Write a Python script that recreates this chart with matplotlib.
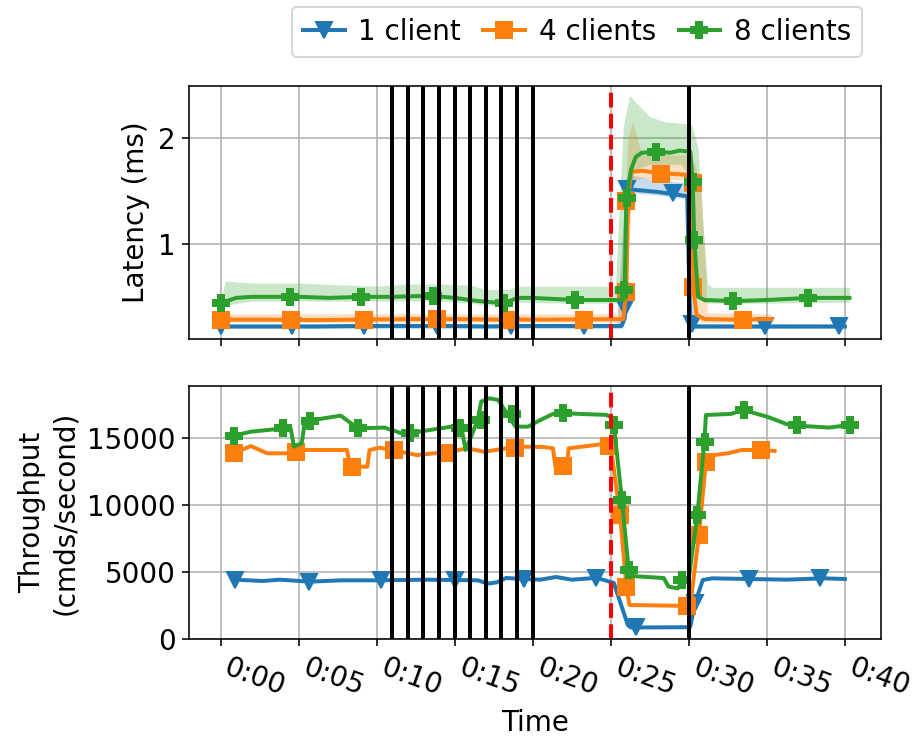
import matplotlib
matplotlib.use('Agg')
from matplotlib import pyplot as plt
from matplotlib.lines import Line2D

##################################################################################
### DATA (time in minutes)
##################################################################################
labels = ['1 client', '4 clients', '8 clients']
colors = ['tab:blue', 'tab:orange', 'tab:green']
markers = ['v', 's', 'P']

xticks = [0, 5, 10, 15, 20, 25, 30, 35, 40]
xticklabels = ['0:00', '0:05', '0:10', '0:15', '0:20', '0:25', '0:30', '0:35', '0:40']

reconfig_times = [11, 12, 13, 14, 15, 16, 17, 18, 19, 20]
failure_time = 25
recovery_time = 30

# --- latency (ms) ---
lat1_x = [0, 3, 6, 9, 12, 15, 17, 19, 22, 25.7, 25.9, 26.0, 26.1, 26.5, 28, 29.9, 30.0, 30.1, 30.3, 33, 36, 40]
lat1_y = [0.22, 0.22, 0.22, 0.225, 0.225, 0.225, 0.22, 0.225, 0.225, 0.225, 0.30, 1.0, 1.52, 1.51, 1.49, 1.45, 0.8, 0.26, 0.22, 0.22, 0.22, 0.22]
lat1_mx = [0, 4.6, 9.2, 13.9, 18.6, 23.3, 25.9, 26.05, 29.0, 30.2, 34.9, 39.6]
lat1_my = [0.22, 0.22, 0.22, 0.225, 0.225, 0.225, 0.39, 1.52, 1.48, 0.24, 0.22, 0.22]
lat1_band_x = [0, 25.4, 25.7, 26.0, 26.3, 28, 30.0, 30.2, 30.4, 40]
lat1_lo = [0.20, 0.20, 0.20, 0.9, 1.48, 1.46, 1.42, 0.20, 0.20, 0.20]
lat1_hi = [0.245, 0.245, 1.0, 1.62, 1.65, 1.60, 1.58, 0.6, 0.25, 0.245]

lat4_x = [0, 3, 6, 9, 12, 15, 18, 21, 25.8, 26.0, 26.1, 26.3, 27, 28, 29, 30.1, 30.2, 30.3, 30.5, 31, 33, 35.3]
lat4_y = [0.285, 0.285, 0.28, 0.285, 0.29, 0.29, 0.285, 0.285, 0.29, 0.55, 1.40, 1.68, 1.69, 1.67, 1.66, 1.65, 1.55, 0.57, 0.33, 0.29, 0.285, 0.29]
lat4_mx = [0, 4.53, 9.21, 13.89, 18.54, 23.31, 25.97, 25.97, 28.23, 30.25, 30.25, 33.48]
lat4_my = [0.285, 0.285, 0.285, 0.29, 0.285, 0.285, 0.55, 1.40, 1.66, 1.57, 0.59, 0.285]
lat4_band_x = [0, 25.4, 25.7, 26.1, 26.4, 27, 30.0, 30.4, 30.8, 31.2, 35.3]
lat4_lo = [0.26, 0.26, 0.26, 0.8, 1.60, 1.62, 1.60, 0.3, 0.26, 0.26, 0.26]
lat4_hi = [0.34, 0.34, 0.8, 2.0, 2.15, 1.84, 1.84, 1.75, 1.5, 0.35, 0.34]

lat8_x = [0, 1.0, 2, 5, 7, 9, 11, 13.5, 15, 16.5, 18.2, 19, 20, 22.7, 25.8, 25.9, 26.0, 26.3, 26.6, 27.0, 28, 28.8, 29.4, 30.1, 30.25, 30.35, 30.6, 31, 33, 35, 37.7, 40.3]
lat8_y = [0.44, 0.49, 0.50, 0.50, 0.49, 0.50, 0.50, 0.51, 0.49, 0.46, 0.44, 0.49, 0.49, 0.47, 0.47, 0.60, 1.43, 1.70, 1.82, 1.86, 1.87, 1.86, 1.88, 1.87, 1.60, 1.04, 0.50, 0.47, 0.46, 0.47, 0.49, 0.49]
lat8_mx = [0, 4.44, 8.97, 13.59, 18.18, 22.71, 25.88, 26.03, 27.9, 30.25, 30.34, 32.82, 37.65]
lat8_my = [0.44, 0.50, 0.50, 0.51, 0.44, 0.47, 0.56, 1.43, 1.87, 1.58, 1.04, 0.46, 0.49]
lat8_band_x = [0, 0.3, 2, 5, 8, 10, 12, 14, 16, 17, 18.5, 19, 22, 25.3, 25.5, 25.8, 26.2, 26.5, 27.5, 28.5, 29.5, 30.2, 30.6, 30.9, 31.2, 31.5, 35, 40.3]
lat8_lo = [0.40, 0.42, 0.46, 0.46, 0.46, 0.46, 0.46, 0.46, 0.44, 0.42, 0.42, 0.45, 0.44, 0.44, 0.44, 0.50, 1.30, 1.70, 1.75, 1.75, 1.75, 1.60, 0.60, 0.45, 0.44, 0.44, 0.44, 0.45]
lat8_hi = [0.45, 0.65, 0.63, 0.63, 0.61, 0.60, 0.62, 0.62, 0.61, 0.57, 0.57, 0.60, 0.60, 0.60, 1.20, 2.10, 2.40, 2.35, 2.20, 2.15, 2.14, 2.12, 1.90, 1.20, 0.62, 0.59, 0.59, 0.59]

# --- throughput (cmds/second) ---
thr1_x = [0.9, 2.7, 3.8, 5.7, 7.7, 10.2, 13.1, 16.5, 17.1, 17.7, 18.3, 19.4, 20.5, 21.5, 22.5, 24.0, 24.5, 25.2, 26.1, 26.3, 29.9, 30.1, 30.4, 30.9, 31.5, 33.8, 36.3, 38.6, 40.0]
thr1_y = [4450, 4350, 4450, 4300, 4400, 4400, 4450, 4400, 4150, 4250, 4575, 4500, 4450, 4650, 4450, 4575, 4450, 4200, 1050, 880, 900, 950, 2700, 4425, 4550, 4500, 4450, 4550, 4500]
thr1_mx = [0.9, 5.67, 10.3, 15.0, 19.46, 24.03, 26.64, 30.4, 33.85, 38.43]
thr1_my = [4450, 4300, 4400, 4450, 4500, 4575, 880, 2700, 4500, 4550]

thr4_x = [0.86, 1.94, 2.99, 4.7, 4.9, 8.1, 8.3, 9.4, 9.55, 10.2, 12.6, 14.7, 15.8, 16.9, 19.0, 20.7, 21.3, 21.45, 22.2, 22.3, 24.7, 25.0, 25.6, 26.0, 26.2, 29.9, 30.1, 30.65, 31.1, 31.3, 32.5, 33.4, 34.7, 35.5]
thr4_y = [13900, 14420, 13880, 13880, 14130, 14130, 12880, 12880, 14130, 14300, 13750, 14000, 14250, 14000, 14380, 14350, 14250, 12900, 12900, 14250, 14600, 14400, 9280, 3930, 2560, 2490, 2560, 7790, 13260, 13700, 13880, 14130, 14130, 14050]
thr4_mx = [0.86, 4.83, 8.42, 11.1, 14.58, 18.86, 21.93, 24.86, 25.6, 26.0, 29.9, 30.65, 31.1, 34.6]
thr4_my = [13900, 13990, 12880, 14130, 13880, 14250, 12900, 14430, 9280, 3930, 2490, 7790, 13260, 14130]

thr8_x = [0.86, 1.94, 4.1, 4.5, 4.7, 5.2, 5.4, 6.6, 7.7, 8.8, 10.5, 11.8, 13.0, 14.8, 15.4, 15.7, 16.1, 16.5, 16.7, 17.2, 17.8, 18.4, 18.9, 19.7, 20.5, 21.3, 22.0, 23.0, 24.7, 25.0, 25.2, 25.72, 26.15, 26.4, 28.4, 28.7, 29.3, 29.6, 30.0, 30.55, 31.0, 31.1, 32.7, 33.5, 35.0, 36.3, 36.9, 39.0, 40.3]
thr8_y = [15196, 15494, 15746, 15700, 14375, 14624, 16243, 16492, 16691, 15746, 15800, 15296, 15545, 15870, 15995, 14130, 15245, 16492, 17736, 17985, 17860, 16740, 15870, 15870, 16370, 16820, 16890, 16820, 16750, 16600, 15990, 10395, 5170, 4720, 4570, 3930, 3800, 4420, 4550, 9280, 14745, 16740, 16820, 17110, 16620, 16050, 15950, 15800, 16000]
thr8_mx = [0.86, 4.03, 5.74, 8.83, 12.13, 15.32, 16.67, 18.65, 21.97, 25.23, 25.72, 26.15, 29.58, 30.55, 31.02, 33.54, 36.93, 40.3]
thr8_my = [15196, 15746, 16290, 15746, 15370, 15800, 16360, 16790, 16890, 15995, 10395, 5170, 4425, 9280, 14745, 17110, 15995, 16000]

##################################################################################
### PLOT
##################################################################################
plt.rcParams['font.size'] = 14

fig, (ax1, ax2) = plt.subplots(2, 1, sharex=True, figsize=(916 / 143, 736 / 143), dpi=143)
fig.subplots_adjust(left=0.2067, right=0.9615, top=0.8832, bottom=0.1314, hspace=0.185)

lat = [(lat1_x, lat1_y, lat1_mx, lat1_my, lat1_band_x, lat1_lo, lat1_hi),
       (lat4_x, lat4_y, lat4_mx, lat4_my, lat4_band_x, lat4_lo, lat4_hi),
       (lat8_x, lat8_y, lat8_mx, lat8_my, lat8_band_x, lat8_lo, lat8_hi)]
thr = [(thr1_x, thr1_y, thr1_mx, thr1_my),
       (thr4_x, thr4_y, thr4_mx, thr4_my),
       (thr8_x, thr8_y, thr8_mx, thr8_my)]

for (x, y, mx, my, bx, lo, hi), c, m in zip(lat, colors, markers):
    ax1.fill_between(bx, lo, hi, color=c, alpha=0.25, linewidth=0)
    ax1.plot(x, y, color=c, lw=2)
    ax1.plot(mx, my, ls='none', marker=m, color=c, ms=8)

for (x, y, mx, my), c, m in zip(thr, colors, markers):
    ax2.plot(x, y, color=c, lw=2)
    ax2.plot(mx, my, ls='none', marker=m, color=c, ms=8)

for ax in (ax1, ax2):
    for t in reconfig_times:
        ax.axvline(t, color='k', lw=2)
    ax.axvline(failure_time, color='red', ls='--', lw=2)
    ax.axvline(recovery_time, color='k', lw=2)
    ax.grid(True)
    ax.set_axisbelow(True)

ax1.set_ylim(0.10, 2.49)
ax1.set_yticks([1, 2])
ax1.set_ylabel('Latency (ms)')

ax2.set_ylim(0, 18900)
ax2.set_yticks([0, 5000, 10000, 15000])
ax2.set_ylabel('Throughput\n(cmds/second)')

ax2.set_xlim(-2.0, 42.3)
ax2.set_xticks(xticks)
ax2.set_xticklabels(xticklabels, rotation=-20, ha='left')
ax2.set_xlabel('Time')

handles = [Line2D([], [], color=c, marker=m, lw=2, ms=8) for c, m in zip(colors, markers)]
fig.legend(handles, labels, loc='center', bbox_to_anchor=(0.630, 0.957), ncol=3,
           fontsize=14, handlelength=1.5, handletextpad=0.5, columnspacing=0.8)

fig.savefig('out.png', dpi=143)
